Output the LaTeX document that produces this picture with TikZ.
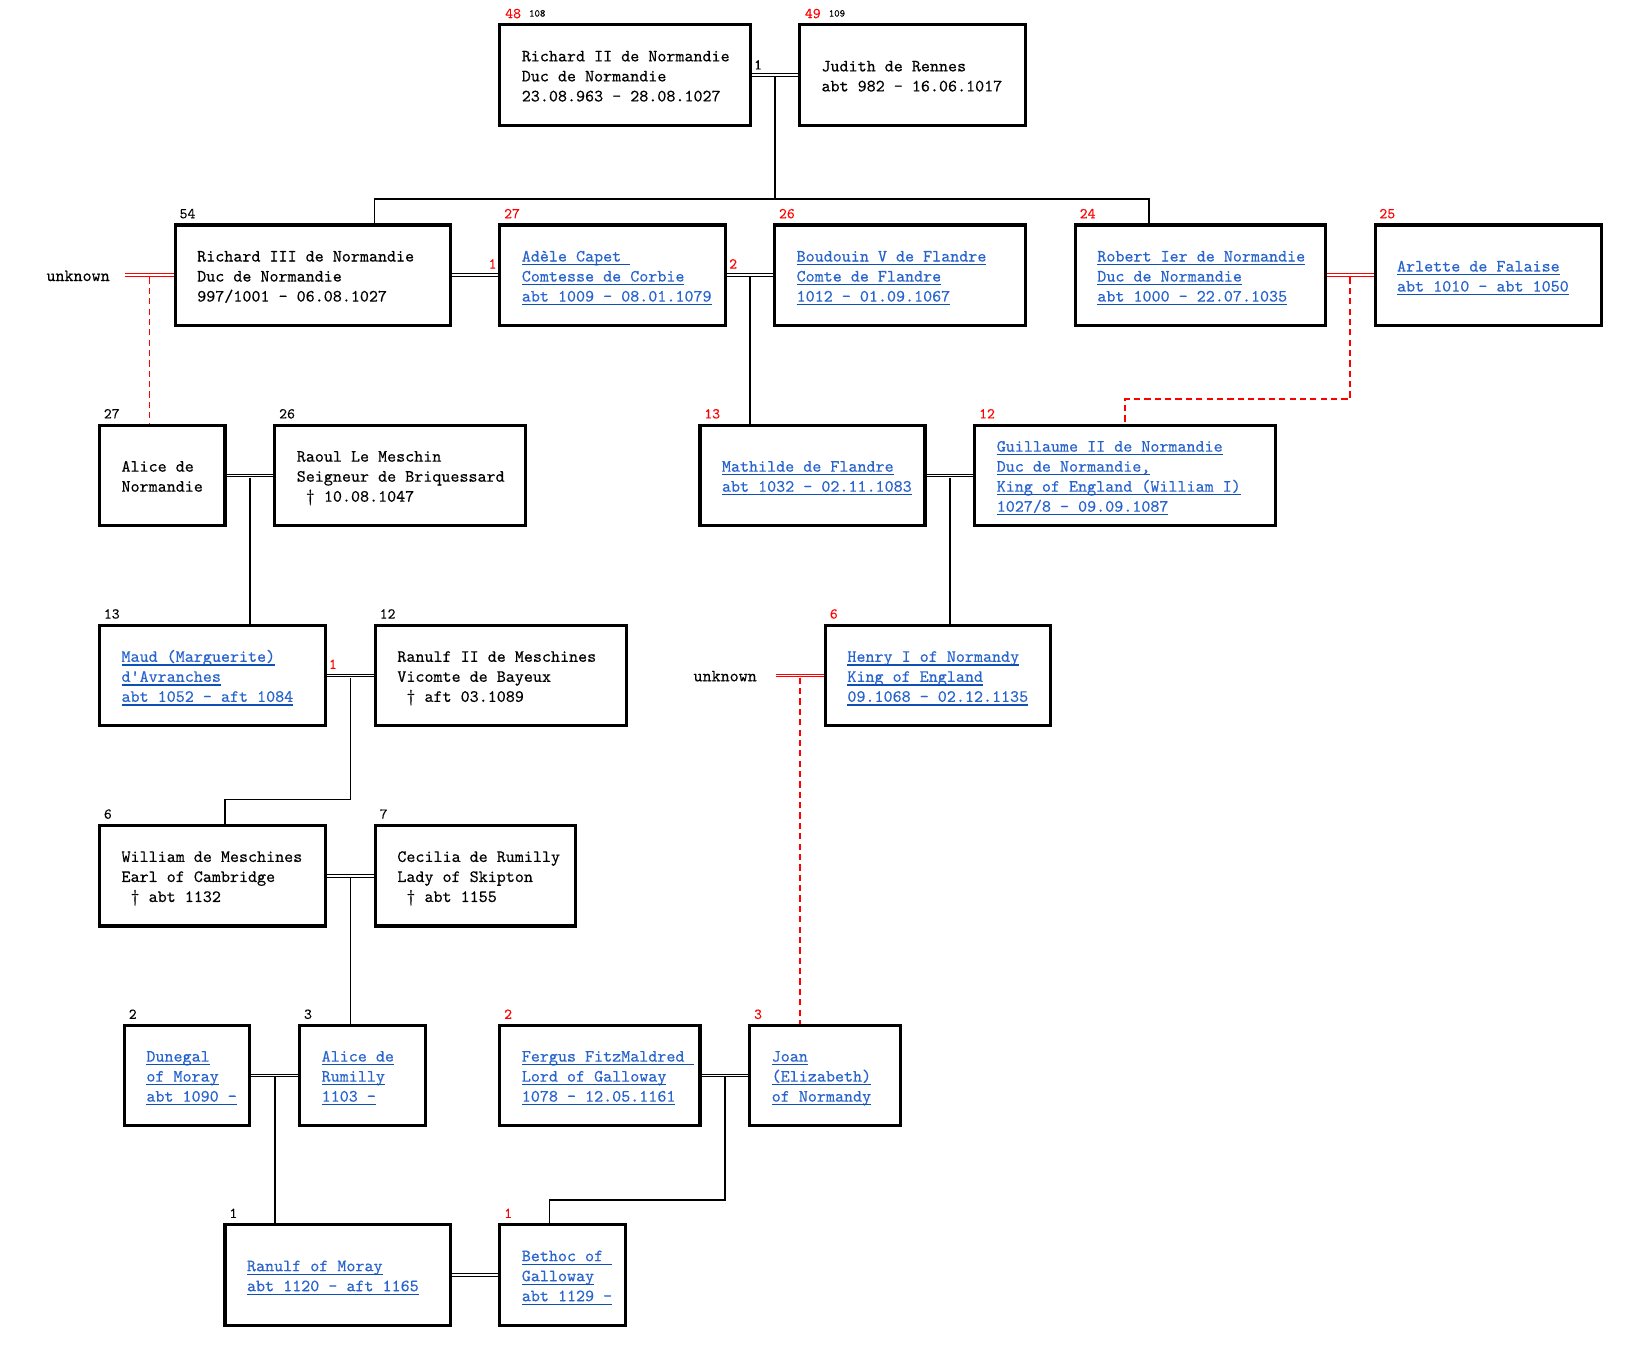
\documentclass[tikz,border=0pt]{standalone}
\usepackage{fontspec}
\newfontfamily\monofont{lmmono10-regular.otf}[FakeBold=0.4]
\newfontfamily\labmono{lmmono10-regular.otf}[FakeBold=0.15]
\usetikzlibrary{calc}
\definecolor{lblue}{RGB}{40,100,205}
\definecolor{ublue}{RGB}{15,80,180}
\definecolor{nred}{RGB}{255,0,0}
\newsavebox\lkbox
\newcommand\st{\rule[-5.15pt]{0pt}{19.3pt}}
\newcommand\lk[1]{\sbox\lkbox{#1}\rlap{\usebox\lkbox}{\color{ublue}\rule[-3.6pt]{\wd\lkbox}{1.1pt}}}
\newcommand\pb[5]{\node[pbox, minimum width={(#4)-(#2)}, minimum height={(#5)-(#3)}] (#1) at ({((#2)+(#4))/2},{((#3)+(#5))/2}) {};}
\tikzset{
  pbox/.style={draw=black, line width=3pt, inner sep=0pt, outer sep=1.5pt, fill=white},
  tx/.style={inner sep=0pt, align=left, font=\monofont\fontsize{16.6}{19.3}\selectfont},
  lab/.style={inner sep=0pt, font=\labmono\fontsize{14.5}{16}\selectfont},
  sml/.style={inner sep=0pt, font=\labmono\fontsize{10}{11}\selectfont},
  conn/.style={draw=black, line width=1.6pt},
  dbl/.style={draw=black, line width=1pt, double=white, double distance=1.6pt},
  rdbl/.style={dbl, draw=nred},
  rdash/.style={draw=nred, line width=1.6pt, dash pattern=on 6pt off 4pt}
}
\begin{document}
\begin{tikzpicture}[x=1pt,y=-1pt]
\fill[white] (0,0) rectangle (1568,1303);
\useasboundingbox (0,0) rectangle (1568,1303);
% ---------- boxes ----------
\pb{rich2}{482}{24}{724}{121}
\pb{judith}{771}{24}{989}{121}
\pb{rich3}{169}{217}{434}{314}
\pb{adele}{482}{217}{700}{314}
\pb{boud}{747}{217}{989}{314}
\pb{robert}{1037}{217}{1278}{314}
\pb{arlette}{1326}{217}{1544}{314}
\pb{aliceN}{96}{410}{217}{507}
\pb{raoul}{265}{410}{507}{507}
\pb{mathilde}{675}{410}{892}{507}
\pb{guill}{940}{410}{1230}{507}
\pb{maud}{96}{603}{314}{700}
\pb{ranulf2}{362}{603}{604}{700}
\pb{henry}{796}{603}{1013}{700}
\pb{william}{96}{796}{314}{893}
\pb{cecilia}{362}{796}{555}{893}
\pb{dunegal}{120}{989}{241}{1085}
\pb{aliceR}{289}{989}{410}{1085}
\pb{fergus}{482}{989}{675}{1085}
\pb{joan}{723}{989}{868}{1085}
\pb{ranulfM}{217}{1181}{434}{1278}
\pb{bethoc}{482}{1181}{603}{1278}
% ---------- helper coordinates ----------
\coordinate (m1) at ($(rich2.east)!0.5!(judith.west)$);
\coordinate (m2) at ($(adele.east)!0.5!(boud.west)$);
\coordinate (m3) at ($(robert.east)!0.5!(arlette.west)$);
\coordinate (m4) at ($(aliceN.east)!0.5!(raoul.west)$);
\coordinate (m5) at ($(mathilde.east)!0.5!(guill.west)$);
\coordinate (m6) at ($(maud.east)!0.5!(ranulf2.west)$);
\coordinate (m7) at ($(william.east)!0.5!(cecilia.west)$);
\coordinate (m8) at ($(dunegal.east)!0.5!(aliceR.west)$);
\coordinate (m9) at ($(fergus.east)!0.5!(joan.west)$);
\coordinate (b1) at (361,192);
\coordinate (b2) at (1108,192);
\coordinate (k1) at (1085,385);
\coordinate (k2) at (217,771);
\coordinate (k3) at (530,1157);
\coordinate (u1) at (121,265.5);
\coordinate (u2) at (748,651.5);
\coordinate (mu1) at ($(u1)!0.5!(rich3.west)$);
\coordinate (mu2) at ($(u2)!0.5!(henry.west)$);
% ---------- connectors ----------
\draw[dbl] (rich2.east) -- (judith.west);
\draw[dbl] (rich3.east) -- (adele.west);
\draw[dbl] (adele.east) -- (boud.west);
\draw[rdbl] (robert.east) -- (arlette.west);
\draw[rdbl] (u1) -- (rich3.west);
\draw[dbl] (aliceN.east) -- (raoul.west);
\draw[dbl] (mathilde.east) -- (guill.west);
\draw[dbl] (maud.east) -- (ranulf2.west);
\draw[rdbl] (u2) -- (henry.west);
\draw[dbl] (william.east) -- (cecilia.west);
\draw[dbl] (dunegal.east) -- (aliceR.west);
\draw[dbl] (fergus.east) -- (joan.west);
\draw[dbl] (ranulfM.east) -- (bethoc.west);

\draw[conn] ($(m1)+(0,2)$) -- (m1 |- b1);
\draw[conn] (rich3.north -| b1) |- (b2) -- (robert.north -| b2);
\draw[conn] ($(m2)+(0,2)$) -- (m2 |- mathilde.north);
\draw[conn] ($(m4)+(0,2)$) -- (m4 |- maud.north);
\draw[conn] ($(m5)+(0,2)$) -- (m5 |- henry.north);
\draw[conn] ($(m6)+(0,2)$) |- (k2) -- (k2 |- william.north);
\draw[conn] ($(m7)+(0,2)$) -- (m7 |- aliceR.north);
\draw[conn] ($(m8)+(0,2)$) -- (m8 |- ranulfM.north);
\draw[conn] ($(m9)+(0,2)$) |- (k3) -- (k3 |- bethoc.north);

\draw[rdash] ($(mu1)+(0,2)$) -- (mu1 |- aliceN.north);
\draw[rdash] ($(m3)+(0,2)$) |- (k1) -- (k1 |- guill.north);
\draw[rdash] ($(mu2)+(0,2)$) -- (mu2 |- joan.north);

% ---------- unknown ----------
\node[tx, anchor=base east] (unk1) at (106,271) {unknown};
\node[tx, anchor=base east] (unk2) at (730,657) {unknown};

% ---------- marriage numbers ----------
\node[lab, text=black, anchor=base west] (mn1) at (727,67) {1};
\node[lab, text=nred, anchor=base west] (mn2) at (471,259) {1};
\node[lab, text=nred, anchor=base west] (mn3) at (703,259) {2};
\node[lab, text=nred, anchor=base west] (mn4) at (317,645) {1};

% ---------- box numbers ----------
\node[lab, text=nred, anchor=base west] (n1) at (487,17.5) {48};
\node[sml, text=black, anchor=base west] (s1) at (510,16) {108};
\node[lab, text=nred, anchor=base west] (n2) at (776,17.5) {49};
\node[sml, text=black, anchor=base west] (s2) at (799,16) {109};
\node[lab, text=black, anchor=base west] (n3) at (173,210.5) {54};
\node[lab, text=nred, anchor=base west] (n4) at (486,210.5) {27};
\node[lab, text=nred, anchor=base west] (n5) at (751,210.5) {26};
\node[lab, text=nred, anchor=base west] (n6) at (1041,210.5) {24};
\node[lab, text=nred, anchor=base west] (n7) at (1330,210.5) {25};
\node[lab, text=black, anchor=base west] (n8) at (100,403.5) {27};
\node[lab, text=black, anchor=base west] (n9) at (269,403.5) {26};
\node[lab, text=nred, anchor=base west] (n10) at (679,403.5) {13};
\node[lab, text=nred, anchor=base west] (n11) at (944,403.5) {12};
\node[lab, text=black, anchor=base west] (n12) at (100,596.5) {13};
\node[lab, text=black, anchor=base west] (n13) at (366,596.5) {12};
\node[lab, text=nred, anchor=base west] (n14) at (800,596.5) {6};
\node[lab, text=black, anchor=base west] (n15) at (100,789.5) {6};
\node[lab, text=black, anchor=base west] (n16) at (366,789.5) {7};
\node[lab, text=black, anchor=base west] (n17) at (124,982.5) {2};
\node[lab, text=black, anchor=base west] (n18) at (293,982.5) {3};
\node[lab, text=nred, anchor=base west] (n19) at (486,982.5) {2};
\node[lab, text=nred, anchor=base west] (n20) at (727,982.5) {3};
\node[lab, text=black, anchor=base west] (n21) at (221,1174.5) {1};
\node[lab, text=nred, anchor=base west] (n22) at (486,1174.5) {1};

% ---------- texts ----------
\node[tx, anchor=west] (t1) at ($(rich2.west)+(22.5,1.5)$) {\st Richard II de Normandie\\ \st Duc de Normandie\\ \st 23.08.963 - 28.08.1027};
\node[tx, anchor=west] (t2) at ($(judith.west)+(22.5,1.5)$) {\st Judith de Rennes\\ \st abt 982 - 16.06.1017};
\node[tx, anchor=west] (t3) at ($(rich3.west)+(22.5,1.5)$) {\st Richard III de Normandie\\ \st Duc de Normandie\\ \st 997/1001 - 06.08.1027};
\node[tx, text=lblue, anchor=west] (t4) at ($(adele.west)+(22.5,1.5)$) {\st\lk{Adèle Capet }\\ \st\lk{Comtesse de Corbie}\\ \st\lk{abt 1009 - 08.01.1079}};
\node[tx, text=lblue, anchor=west] (t5) at ($(boud.west)+(22.5,1.5)$) {\st\lk{Boudouin V de Flandre}\\ \st\lk{Comte de Flandre}\\ \st\lk{1012 - 01.09.1067}};
\node[tx, text=lblue, anchor=west] (t6) at ($(robert.west)+(22.5,1.5)$) {\st\lk{Robert Ier de Normandie}\\ \st\lk{Duc de Normandie}\\ \st\lk{abt 1000 - 22.07.1035}};
\node[tx, text=lblue, anchor=west] (t7) at ($(arlette.west)+(22.5,1.5)$) {\st\lk{Arlette de Falaise}\\ \st\lk{abt 1010 - abt 1050}};
\node[tx, anchor=west] (t8) at ($(aliceN.west)+(22.5,1.5)$) {\st Alice de\\ \st Normandie};
\node[tx, anchor=west] (t9) at ($(raoul.west)+(22.5,1.5)$) {\st Raoul Le Meschin\\ \st Seigneur de Briquessard\\ \st\ † 10.08.1047};
\node[tx, text=lblue, anchor=west] (t10) at ($(mathilde.west)+(22.5,1.5)$) {\st\lk{Mathilde de Flandre}\\ \st\lk{abt 1032 - 02.11.1083}};
\node[tx, text=lblue, anchor=west] (t11) at ($(guill.west)+(22.5,1.5)$) {\st\lk{Guillaume II de Normandie}\\ \st\lk{Duc de Normandie,}\\ \st\lk{King of England (William I)}\\ \st\lk{1027/8 - 09.09.1087}};
\node[tx, text=lblue, anchor=west] (t12) at ($(maud.west)+(22.5,1.5)$) {\st\lk{Maud (Marguerite)}\\ \st\lk{d'Avranches}\\ \st\lk{abt 1052 - aft 1084}};
\node[tx, anchor=west] (t13) at ($(ranulf2.west)+(22.5,1.5)$) {\st Ranulf II de Meschines\\ \st Vicomte de Bayeux\\ \st\ † aft 03.1089};
\node[tx, text=lblue, anchor=west] (t14) at ($(henry.west)+(22.5,1.5)$) {\st\lk{Henry I of Normandy}\\ \st\lk{King of England}\\ \st\lk{09.1068 - 02.12.1135}};
\node[tx, anchor=west] (t15) at ($(william.west)+(22.5,1.5)$) {\st William de Meschines\\ \st Earl of Cambridge\\ \st\ † abt 1132};
\node[tx, anchor=west] (t16) at ($(cecilia.west)+(22.5,1.5)$) {\st Cecilia de Rumilly\\ \st Lady of Skipton\\ \st\ † abt 1155};
\node[tx, text=lblue, anchor=west] (t17) at ($(dunegal.west)+(22.5,1.5)$) {\st\lk{Dunegal}\\ \st\lk{of Moray}\\ \st\lk{abt 1090 -}};
\node[tx, text=lblue, anchor=west] (t18) at ($(aliceR.west)+(22.5,1.5)$) {\st\lk{Alice de}\\ \st\lk{Rumilly}\\ \st\lk{1103 -}};
\node[tx, text=lblue, anchor=west] (t19) at ($(fergus.west)+(22.5,1.5)$) {\st\lk{Fergus FitzMaldred }\\ \st\lk{Lord of Galloway}\\ \st\lk{1078 - 12.05.1161}};
\node[tx, text=lblue, anchor=west] (t20) at ($(joan.west)+(22.5,1.5)$) {\st\lk{Joan}\\ \st\lk{(Elizabeth)}\\ \st\lk{of Normandy}};
\node[tx, text=lblue, anchor=west] (t21) at ($(ranulfM.west)+(22.5,1.5)$) {\st\lk{Ranulf of Moray}\\ \st\lk{abt 1120 - aft 1165}};
\node[tx, text=lblue, anchor=west] (t22) at ($(bethoc.west)+(22.5,1.5)$) {\st\lk{Bethoc of }\\ \st\lk{Galloway}\\ \st\lk{abt 1129 -}};
\end{tikzpicture}
\end{document}
